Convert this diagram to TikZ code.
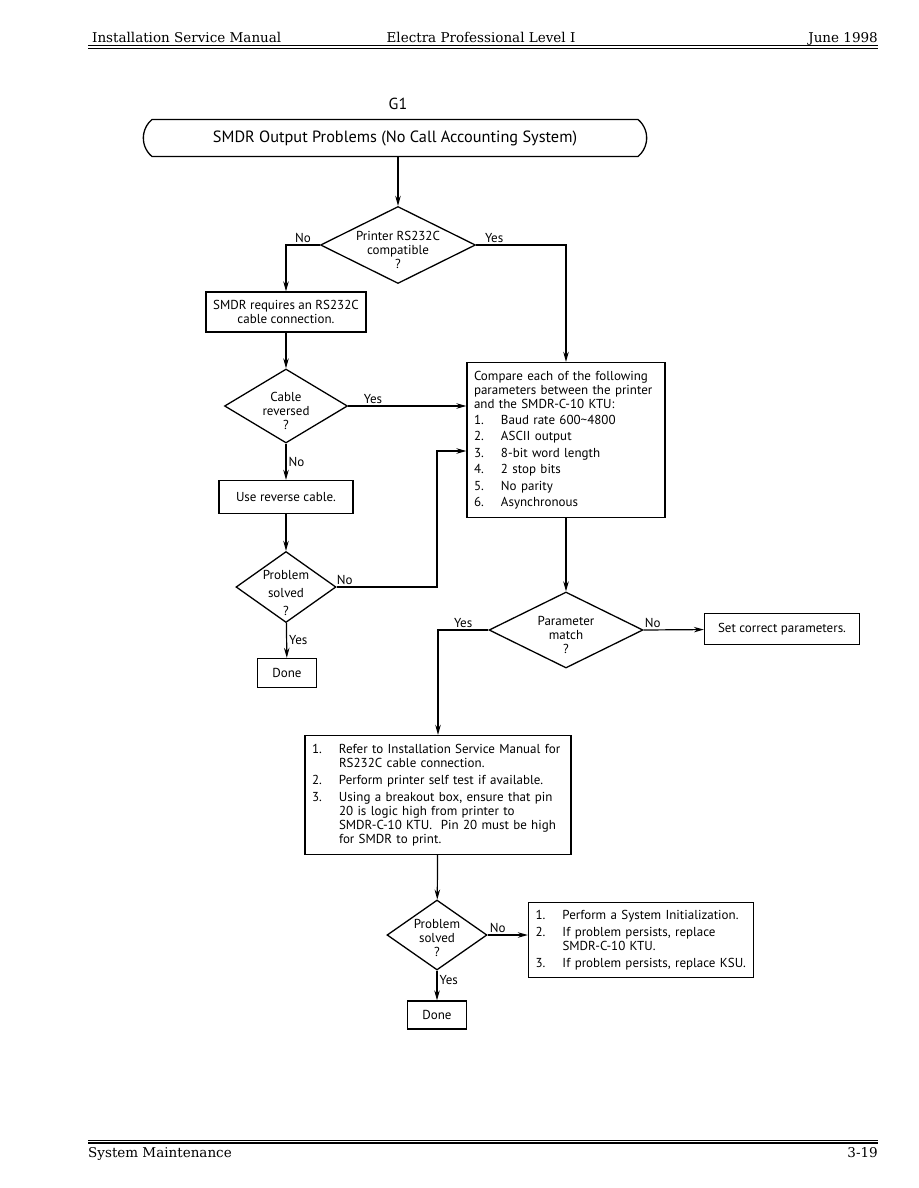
\documentclass[tikz,border=0pt]{standalone}
\usepackage{fontspec}
\setmainfont{PT Sans}
\newfontfamily\hdrfont{DejaVu Serif}
\usetikzlibrary{shapes.geometric,shapes.misc,arrows.meta}

\newcommand{\nr}[1]{\makebox[27pt][l]{#1}}
\newcommand{\dtop}[1]{\rule{0pt}{#1}}

\begin{document}
\begin{tikzpicture}[x=1pt,y=-1pt, every node/.style={font=\fontsize{13}{14}\selectfont},
  box/.style={draw,line width=1.3pt,inner sep=0pt,align=center},
  listbox/.style={draw,line width=1.3pt,align=left,inner xsep=7pt,inner ysep=0pt},
  decision/.style={diamond,draw,line width=1.3pt,inner sep=-14pt,align=center},
  lbl/.style={font=\fontsize{13}{14}\selectfont,inner sep=2pt},
  flow/.style={line width=1.2pt,-{Stealth[length=10pt,width=5.5pt]}},
  hdr/.style={font=\hdrfont\fontsize{13.5}{16}\selectfont,inner sep=0pt}]
\useasboundingbox (0,0) rectangle (918,1188);
% page header and footer
\node[hdr,anchor=base west] (hleft) at (92,43) {Installation Service Manual};
\node[hdr,anchor=base] (hmid) at (481,43) {Electra Professional Level I};
\node[hdr,anchor=base east] (hright) at (878,43) {June 1998};
\draw[line width=1.8pt] (88,45.5) -- (878,45.5);
\draw[line width=0.6pt] (88,48.5) -- (878,48.5);
\draw[line width=0.6pt] (88,1140) -- (878,1140);
\draw[line width=1.8pt] (88,1143) -- (878,1143);
\node[hdr,anchor=base west] (fleft) at (88,1157) {System Maintenance};
\node[hdr,anchor=base east] (fright) at (878,1157) {3-19};
% chart
\node[font=\fontsize{16}{18}\selectfont] (g1) at (398,104) {G1};
\node[draw,line width=1.3pt,rounded rectangle,rounded rectangle arc length=100,minimum width=510pt,minimum height=37pt,font=\fontsize{16.3}{18}\selectfont] (title) at (395,138) {SMDR Output Problems (No Call Accounting System)};
\node[decision,minimum width=155pt,minimum height=77pt] (d1) at (398,245) {\dtop{19pt}Printer RS232C\\compatible\\?};
\node[box,minimum width=160pt,minimum height=40pt] (sreq) at (286,312) {SMDR requires an RS232C\\cable connection.};
\node[decision,minimum width=123pt,minimum height=74pt] (d2) at (286,406) {\dtop{20pt}Cable\\reversed\\?};
\node[box,minimum width=134pt,minimum height=33pt] (rev) at (286,497) {Use reverse cable.};
\node[decision,minimum width=100pt,minimum height=71pt,font=\fontsize{13}{18}\selectfont] (d3) at (286,587) {\dtop{21pt}Problem\\solved\\?};
\node[box,minimum width=59pt,minimum height=29pt] (done1) at (287,673) {Done};
\node[listbox,text width=184pt,minimum height=155pt] (cmp) at (566,440) {Compare each of the following\\parameters between the printer\\and the SMDR-C-10 KTU:\\[2pt]
  \nr{1.}Baud rate 600\textasciitilde4800\\[2.5pt]
  \nr{2.}ASCII output\\[2.5pt]
  \nr{3.}8-bit word length\\[2.5pt]
  \nr{4.}2 stop bits\\[2.5pt]
  \nr{5.}No parity\\[2.5pt]
  \nr{6.}Asynchronous};
\node[decision,minimum width=154pt,minimum height=76pt] (d4) at (566,630) {\dtop{19pt}Parameter\\match\\?};
\node[box,minimum width=155pt,minimum height=31pt] (setp) at (782,629) {Set correct parameters.};
\node[listbox,text width=252pt,minimum height=119pt] (big) at (438,795) {\nr{1.}Refer to Installation Service Manual for\\
  \nr{}RS232C cable connection.\\[3pt]
  \nr{2.}Perform printer self test if available.\\[3pt]
  \nr{3.}Using a breakout box, ensure that pin\\
  \nr{}20 is logic high from printer to\\
  \nr{}SMDR-C-10 KTU.\ \ Pin 20 must be high\\
  \nr{}for SMDR to print.};
\node[decision,minimum width=100pt,minimum height=70pt] (d5) at (437,935) {\dtop{16pt}Problem\\solved\\?};
\node[listbox,text width=211pt,minimum height=75pt] (fin) at (641,940) {\nr{1.}Perform a System Initialization.\\[3pt]
  \nr{2.}If problem persists, replace\\
  \nr{}SMDR-C-10 KTU.\\[3pt]
  \nr{3.}If problem persists, replace KSU.};
\node[box,minimum width=59pt,minimum height=28pt] (done2) at (437,1015) {Done};
\coordinate (j1) at (437,451);
\draw[flow] (title.south -| d1.north) -- (d1.north);
\draw[flow] (d1.west) -| (sreq.north) node[lbl,pos=0.25,above] {No};
\draw[flow] (d1.east) -| (cmp.north) node[lbl,pos=0.1,above] {Yes};
\draw[flow] (sreq) -- (d2);
\draw[flow] (d2.east) -- (d2.east -| cmp.west) node[lbl,pos=0.21,above] {Yes};
\draw[flow] (d2) -- (rev) node[lbl,midway,right] {No};
\draw[flow] (rev) -- (d3);
\draw[flow] (d3.east) -| (j1) node[lbl,pos=0.04,above] {No} -- (j1 -| cmp.west);
\draw[flow] (d3) -- (done1) node[lbl,midway,right] {Yes};
\draw[flow] (cmp) -- (d4);
\draw[flow] (d4.west) -| (big.north) node[lbl,pos=0.25,above] {Yes};
\draw[flow] (d4.east) -- (setp) node[lbl,pos=0.15,above] {No};
\draw[flow] (big) -- (d5);
\draw[flow] (d5.east) -- (d5.east -| fin.west) node[lbl,pos=0.25,above] {No};
\draw[flow] (d5) -- (done2) node[lbl,pos=0.3,right] {Yes};
\end{tikzpicture}
\end{document}
